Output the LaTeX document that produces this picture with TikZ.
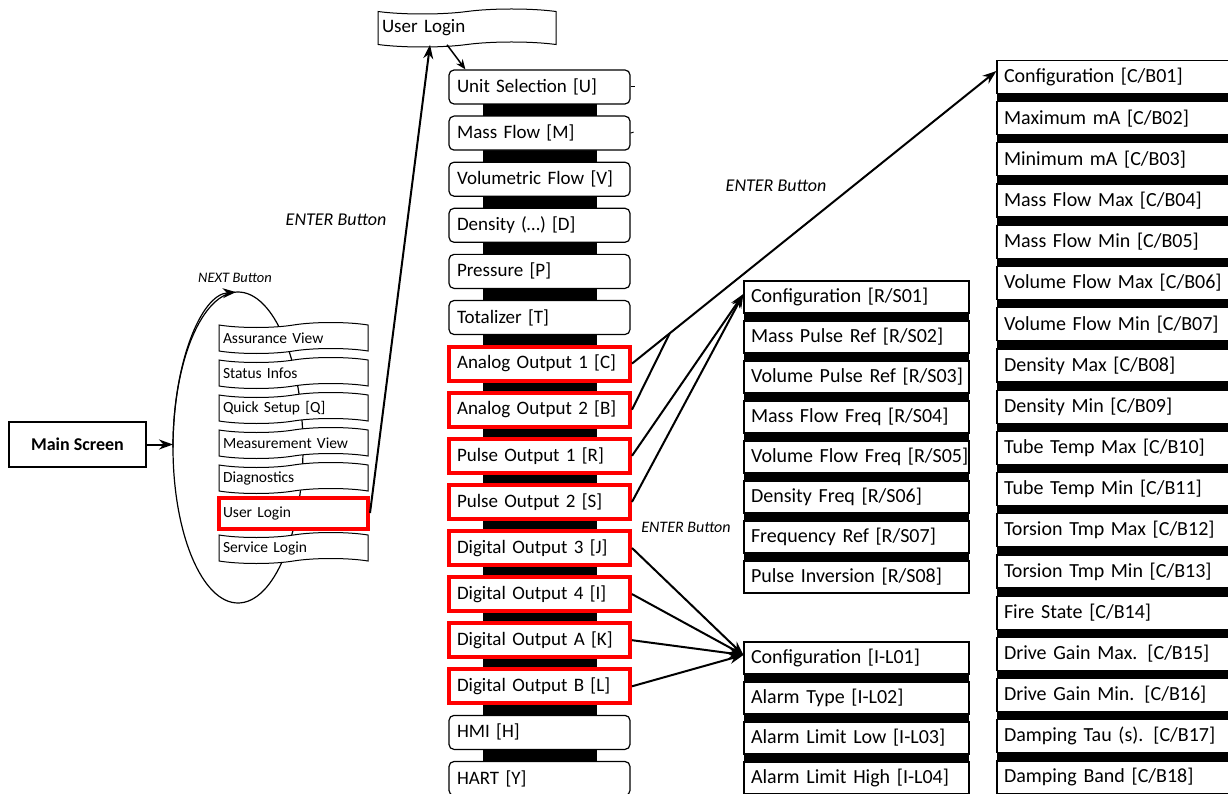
\documentclass[tikz,border=0pt]{standalone}
\usepackage{fontspec}
\setmainfont{Carlito}
\usetikzlibrary{arrows.meta,shapes.symbols,calc}
\tikzset{
  menubox/.style={draw, fill=white, rounded corners=5pt, line width=1.2pt, minimum height=34pt,
    text width=165pt, inner xsep=8pt, align=left, font=\fontsize{19}{22}\selectfont},
  menured/.style={menubox, rounded corners=0pt, draw=red, line width=4pt},
  viewbox/.style={tape, draw, fill=white, line width=1pt, minimum height=31pt,
    text width=141pt, inner xsep=4pt, align=left, font=\fontsize{15.5}{18}\selectfont},
  viewred/.style={rectangle, draw=red, fill=white, line width=4pt, minimum height=31pt,
    text width=141pt, inner xsep=4pt, align=left, font=\fontsize{15.5}{18}\selectfont},
  parbox/.style={draw, fill=white, line width=1.2pt, minimum height=32pt,
    text width=211pt, inner xsep=7pt, align=left, font=\fontsize{20}{24}\selectfont},
  cbbox/.style={parbox, minimum height=33pt, text width=231pt},
  btnlabel/.style={font=\itshape\fontsize{18}{22}\selectfont},
  link/.style={line width=2pt, -{Stealth[length=14pt,width=10pt]}},
}
\begin{document}
\begin{tikzpicture}[x=1pt,y=-1pt]
\useasboundingbox (0,0) rectangle (1228,794);
\clip (0,0) rectangle (1228,794);

% main screen and the NEXT loop
\node[draw, line width=1.2pt, minimum width=137pt, minimum height=45pt,
  font=\bfseries\fontsize{18}{22}\selectfont] (main) at (77.5,444.5) {Main Screen};
\coordinate (loopin) at (173,444.5);
\draw[line width=1.2pt] (238,447.5) ellipse [x radius=65pt, y radius=155.5pt];
\draw[line width=1.2pt, -{Stealth[length=13pt,width=10pt]}] (173,447.5)
  arc [start angle=180, end angle=92, x radius=65pt, y radius=155.5pt];
\node[font=\itshape\fontsize{14.5}{17}\selectfont] (next) at (235,278) {NEXT Button};
\draw[link] (main) -- (loopin);

% views on the main screen
\foreach \t/\s [count=\i] in {Assurance View/viewbox, Status Infos/viewbox,
    Quick Setup [Q]/viewbox, Measurement View/viewbox, Diagnostics/viewbox,
    User Login/viewred, Service Login/viewbox}
  \node[\s] (l\i) at (293.5,303+35*\i) {\t};

% user login menu
\node[tape, draw, fill=white, line width=1pt, minimum width=178pt, minimum height=38pt,
  text width=170pt, inner xsep=4pt, align=left, font=\fontsize{19}{22}\selectfont]
  (login) at (467,28) {User Login};
\fill (483,87) rectangle (597,778);
\foreach \t/\s [count=\i] in {Unit Selection [U]/menubox, Mass Flow [M]/menubox,
    Volumetric Flow [V]/menubox, Density (…) [D]/menubox, Pressure [P]/menubox,
    Totalizer [T]/menubox, Analog Output 1 [C]/menured, Analog Output 2 [B]/menured,
    Pulse Output 1 [R]/menured, Pulse Output 2 [S]/menured, Digital Output 3 [J]/menured,
    Digital Output 4 [I]/menured, Digital Output A [K]/menured, Digital Output B [L]/menured,
    HMI [H]/menubox, HART [Y]/menubox}
  \node[\s] (m\i) at (539.5,40.9+46.1*\i) {\t};
\draw[line width=1pt] (m1.east) -- ++(4,0);
\draw[line width=1pt] (m2.east) -- ++(3,-1);

% pulse output parameters
\fill (744,281) rectangle (969,593);
\foreach \t [count=\i] in {{Configuration [R/S01]}, {Mass Pulse Ref [R/S02]},
    {Volume Pulse Ref [R/S03]}, {Mass Flow Freq [R/S04]}, {Volume Flow Freq [R/S05]},
    {Density Freq [R/S06]}, {Frequency Ref [R/S07]}, {Pulse Inversion [R/S08]}}
  \node[parbox] (rs\i) at (856.5,257+40*\i) {\mbox{\t}};

% digital output parameters
\fill (744,642) rectangle (969,800);
\foreach \t [count=\i] in {{Configuration [I-L01]}, {Alarm Type [I-L02]},
    {Alarm Limit Low [I-L03]}, {Alarm Limit High [I-L04]}}
  \node[parbox] (il\i) at (856.5,618+40*\i) {\mbox{\t}};

% analog output parameters
\fill (997,60) rectangle (1240,800);
\foreach \t [count=\i] in {{Configuration [C/B01]}, {Maximum mA [C/B02]},
    {Minimum mA [C/B03]}, {Mass Flow Max [C/B04]}, {Mass Flow Min [C/B05]},
    {Volume Flow Max [C/B06]}, {Volume Flow Min [C/B07]}, {Density Max [C/B08]},
    {Density Min [C/B09]}, {Tube Temp Max [C/B10]}, {Tube Temp Min [C/B11]},
    {Torsion Tmp Max [C/B12]}, {Torsion Tmp Min [C/B13]}, {Fire State [C/B14]},
    {Drive Gain Max. [C/B15]}, {Drive Gain Min. [C/B16]}, {Damping Tau (s). [C/B17]},
    {Damping Band [C/B18]}}
  \node[cbbox] (cb\i) at (1119.5,35.8+41.2*\i) {\mbox{\t}};

% ENTER connectors
\draw[link] (l6.east) -- ([xshift=-37pt]login.south);
\draw[line width=1.5pt, -{Stealth[length=10pt,width=8pt]}] ([xshift=-20pt]login.south)
  -- ([xshift=17pt]m1.north west);
\draw[link] (m7.east) -- ([yshift=6pt]cb1.west);
\draw[line width=2pt] (m8.east) -- ($(m7.east)!0.1035!([yshift=6pt]cb1.west)$);
\draw[link] (m9.east) -- ([yshift=3pt]rs1.west);
\draw[link] (m10.east) -- ([yshift=3pt]rs1.west);
\foreach \k in {11,...,14}
  \draw[link] (m\k.east) -- ([yshift=3pt]il1.west);
\node[btnlabel] (enter1) at (336,220) {ENTER Button};
\node[btnlabel] (enter2) at (776,186) {ENTER Button};
\node[btnlabel, font=\itshape\fontsize{16}{19}\selectfont] (enter3) at (686,527) {ENTER Button};
\end{tikzpicture}
\end{document}
